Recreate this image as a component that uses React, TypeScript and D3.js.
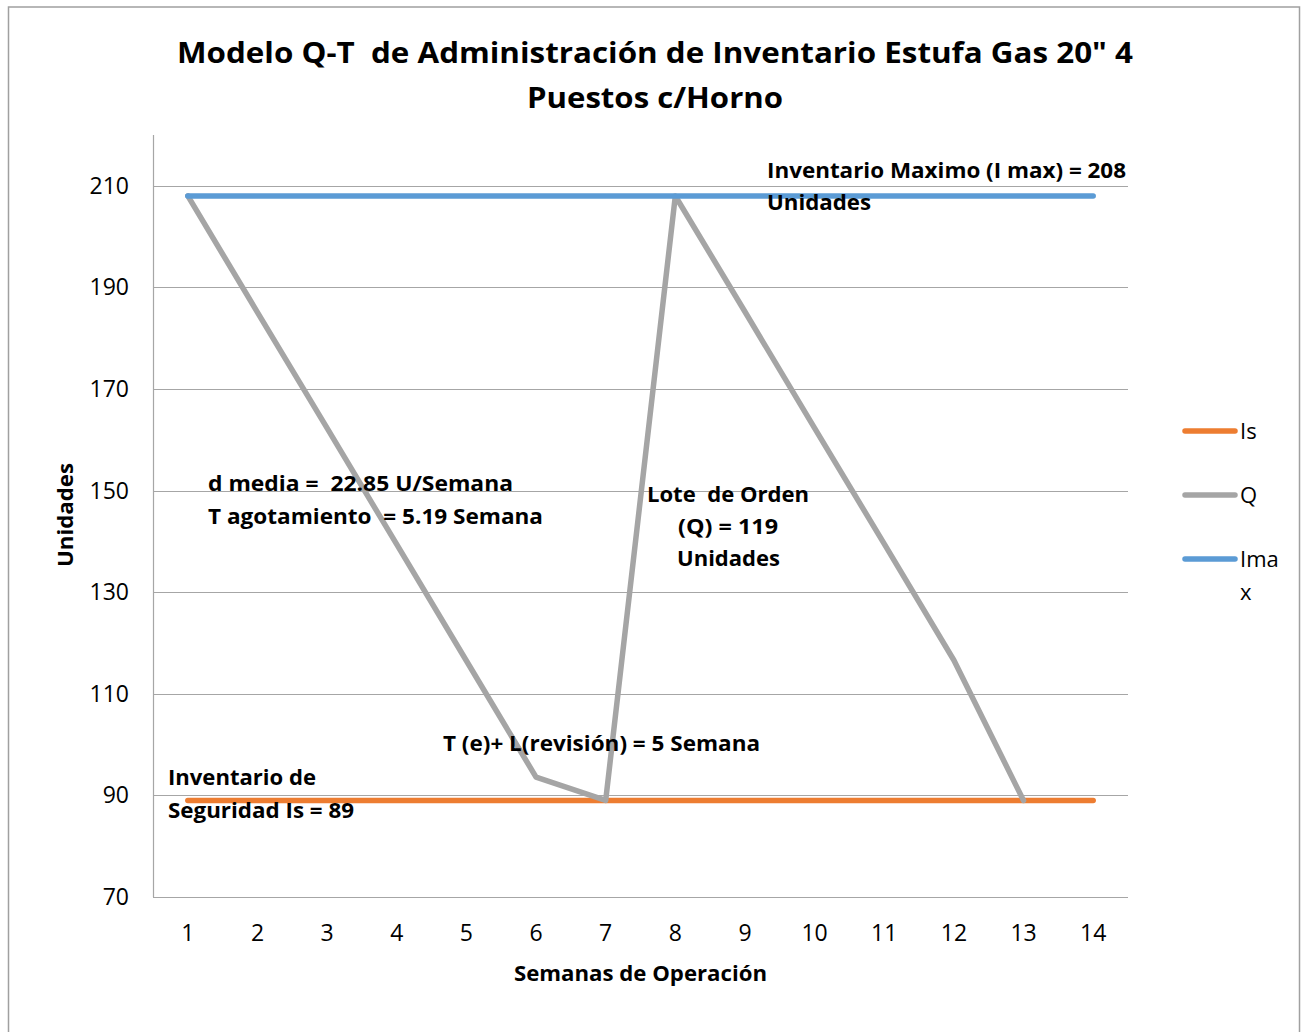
import React from "react";
import * as d3 from "d3";

// weeks of operation
const weeks = [1, 2, 3, 4, 5, 6, 7, 8, 9, 10, 11, 12, 13, 14];
// Q: inventory level (weeks 1..13)
const qValues = [208, 185.1, 162.3, 139.4, 116.5, 93.6, 89, 208, 185.2, 162.3, 139.5, 116.6, 89];
// safety stock and max inventory lines
const isValues = [89, 89, 89, 89, 89, 89, 89, 89, 89, 89, 89, 89, 89, 89];
const imaxValues = [208, 208, 208, 208, 208, 208, 208, 208, 208, 208, 208, 208, 208, 208];
const yTicks = [70, 90, 110, 130, 150, 170, 190, 210];

const seriesList = [
  { name: "Is", values: isValues, color: "#ED7D31" },
  { name: "Q", values: qValues, color: "#A5A5A5" },
  { name: "Imax", values: imaxValues, color: "#5B9BD5" },
];

const FONT = "'Open Sans', 'Noto Sans', sans-serif";

// bold text stretched to the width it has in the picture
function Label(props: { x: number; y: number; w: number; size?: number; children: string }) {
  const { x, y, w, size = 21.5, children } = props;
  return (
    <text
      x={x}
      y={y}
      fontFamily={FONT}
      fontWeight={700}
      fontSize={size}
      textLength={w}
      lengthAdjust="spacingAndGlyphs"
      style={{ whiteSpace: "pre" }}
    >
      {children}
    </text>
  );
}

export default function App() {
  const margin = { left: 153, right: 1128, top: 135, bottom: 897 };

  const x = d3
    .scaleBand<number>()
    .domain(weeks)
    .range([margin.left, margin.right]);
  const cx = (w: number) => (x(w) as number) + x.bandwidth() / 2;

  const y = d3.scaleLinear().domain([70, 220]).range([margin.bottom, margin.top]);

  const line = d3
    .line<number>()
    .x((d, i) => cx(weeks[i]))
    .y((d) => y(d));

  return (
    <svg
      width={1302}
      height={1032}
      style={{ position: "absolute", left: 0, top: 0, background: "#fff" }}
    >
      <rect x={8.5} y={7} width={1291} height={1100} fill="#fff" stroke="#A0A0A0" strokeWidth={1.5} />

      {/* title */}
      <Label x={177} y={63} w={956} size={29}>{'Modelo Q-T  de Administración de Inventario Estufa Gas 20" 4'}</Label>
      <Label x={527} y={108} w={256} size={29}>Puestos c/Horno</Label>

      {/* gridlines */}
      {yTicks.map((t) => (
        <line key={t} x1={margin.left} x2={margin.right} y1={Math.round(y(t)) + 0.5} y2={Math.round(y(t)) + 0.5} stroke="#A6A6A6" strokeWidth={1} />
      ))}
      <line x1={margin.left + 0.5} x2={margin.left + 0.5} y1={margin.top} y2={margin.bottom} stroke="#A6A6A6" strokeWidth={1.2} />

      {/* y tick labels */}
      {yTicks.map((t) => (
        <text key={t} x={129} y={y(t) + 8} textAnchor="end" fontFamily={FONT} fontSize={23}>
          {t}
        </text>
      ))}
      {/* x tick labels */}
      {weeks.map((w) => (
        <text key={w} x={cx(w)} y={941} textAnchor="middle" fontFamily={FONT} fontSize={23}>
          {w}
        </text>
      ))}

      {/* axis titles */}
      <Label x={514} y={981} w={253}>Semanas de Operación</Label>
      <g transform="translate(73,567) rotate(-90)">
        <Label x={0} y={0} w={104}>Unidades</Label>
      </g>

      {/* series */}
      {seriesList.map((s) => (
        <path
          key={s.name}
          d={line(s.values) as string}
          fill="none"
          stroke={s.color}
          strokeWidth={5.5}
          strokeLinecap="round"
          strokeLinejoin="round"
        />
      ))}

      {/* annotations */}
      <Label x={767} y={178} w={359}>Inventario Maximo (I max) = 208</Label>
      <Label x={767} y={210} w={104}>Unidades</Label>
      <Label x={208} y={491} w={305}>d media =  22.85 U/Semana</Label>
      <Label x={208} y={524} w={335}>T agotamiento  = 5.19 Semana</Label>
      <Label x={647} y={502} w={162}>Lote  de Orden</Label>
      <Label x={678} y={534} w={100}>(Q) = 119</Label>
      <Label x={677} y={566} w={103}>Unidades</Label>
      <Label x={443} y={751} w={317}>T (e)+ L(revisión) = 5 Semana</Label>
      <Label x={168} y={785} w={148}>Inventario de</Label>
      <Label x={168} y={818} w={186}>Seguridad Is = 89</Label>

      {/* legend */}
      {seriesList.map((s, i) => {
        const ly = 431 + i * 64;
        return (
          <g key={s.name}>
            <line x1={1185} x2={1235} y1={ly} y2={ly} stroke={s.color} strokeWidth={5.5} strokeLinecap="round" />
            <text x={1240} y={ly + 8} fontFamily={FONT} fontSize={22}>
              {s.name === "Imax" ? "Ima" : s.name}
            </text>
            {s.name === "Imax" && (
              <text x={1240} y={ly + 41} fontFamily={FONT} fontSize={22}>x</text>
            )}
          </g>
        );
      })}
    </svg>
  );
}
